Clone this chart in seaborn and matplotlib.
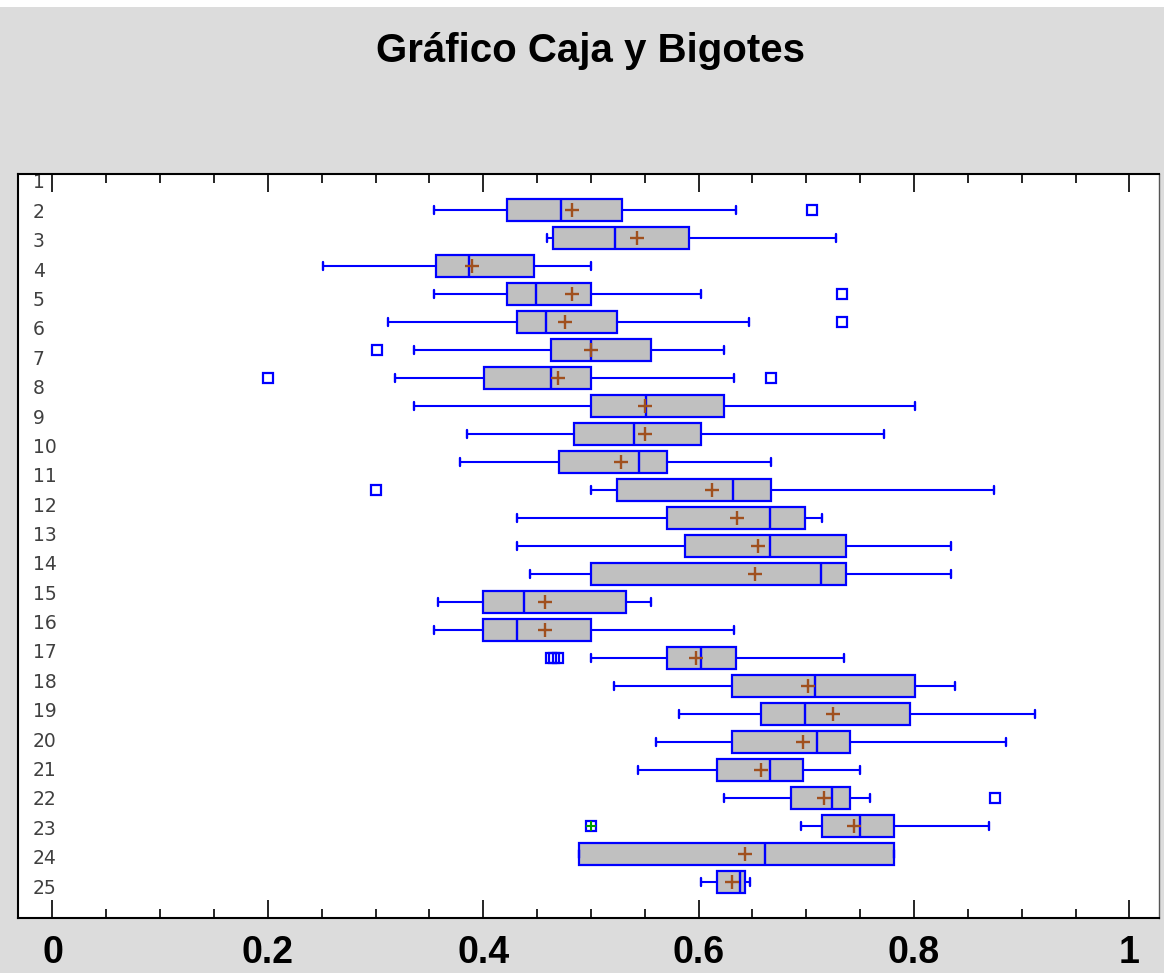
import numpy as np
import pandas as pd
import matplotlib
matplotlib.use("Agg")
import matplotlib.pyplot as plt
from matplotlib.ticker import MultipleLocator
from matplotlib.patches import Rectangle
import seaborn as sns

# ---------------- data ----------------
categories = [str(i) for i in range(1, 26)]
whislo = [0.354, 0.459, 0.251, 0.354, 0.3115, 0.336, 0.318, 0.336, 0.385, 0.378,
          0.500, 0.431, 0.431, 0.443, 0.358, 0.354, 0.500, 0.5216, 0.5815, 0.560,
          0.544, 0.624, 0.695, 0.489, 0.602]
q1 = [0.4225, 0.465, 0.356, 0.4225, 0.431, 0.463, 0.401, 0.500, 0.484, 0.470,
      0.524, 0.571, 0.587, 0.500, 0.400, 0.400, 0.571, 0.631, 0.6575, 0.631,
      0.6175, 0.686, 0.715, 0.489, 0.6175]
median = [0.472, 0.522, 0.387, 0.449, 0.458, 0.500, 0.463, 0.551, 0.540, 0.545,
          0.632, 0.666, 0.666, 0.714, 0.438, 0.431, 0.602, 0.708, 0.699, 0.710,
          0.666, 0.724, 0.750, 0.6615, 0.638]
q3 = [0.529, 0.591, 0.447, 0.500, 0.524, 0.556, 0.500, 0.624, 0.602, 0.571,
      0.667, 0.699, 0.737, 0.737, 0.533, 0.500, 0.635, 0.801, 0.7965, 0.741,
      0.697, 0.741, 0.781, 0.781, 0.643]
whishi = [0.635, 0.728, 0.500, 0.602, 0.647, 0.624, 0.633, 0.801, 0.772, 0.667,
          0.874, 0.715, 0.834, 0.834, 0.556, 0.633, 0.735, 0.838, 0.912, 0.885,
          0.750, 0.7595, 0.870, 0.781, 0.648]
means = [0.482, 0.543, 0.390, 0.482, 0.476, 0.500, 0.4695, 0.550, 0.550, 0.528,
         0.612, 0.636, 0.655, 0.652, 0.457, 0.457, 0.598, 0.702, 0.725, 0.697,
         0.6575, 0.716, 0.744, 0.643, 0.631]
outliers = [[0.705], [], [], [0.733], [0.733], [0.301], [0.200, 0.667], [], [], [],
            [0.300], [], [], [], [], [], [0.463, 0.466, 0.469], [], [], [],
            [], [0.875], [0.500], [], []]
far_outlier_cat = ["23"]
far_outlier_val = [0.500]

xtick_values = [0, 0.2, 0.4, 0.6, 0.8, 1.0]
xtick_labels = ["0", "0.2", "0.4", "0.6", "0.8", "1"]
title = "Gráfico Caja y Bigotes"

# ---------------- style ----------------
sns.set_style("ticks")
plt.rcParams["font.family"] = ["Liberation Sans", "DejaVu Sans"]
plt.rcParams["text.color"] = "black"
plt.rcParams["xtick.color"] = "black"
plt.rcParams["ytick.color"] = "black"

BLUE = "#0000FF"
BOXFILL = "#C0C0C0"
MEANCOL = "#A0501E"

W, H = 1164, 973
fig = plt.figure(figsize=(W / 100, H / 100), dpi=100, facecolor="#DCDCDC")
fig.patches.append(Rectangle((0, 1 - 7 / H), 1, 7 / H, transform=fig.transFigure,
                             facecolor="white", edgecolor="none", zorder=0))

ax_left, ax_right, ax_top, ax_bot = 18, 1159, 174, 918
ax = fig.add_axes([ax_left / W, (H - ax_bot) / H, (ax_right - ax_left) / W,
                   (ax_bot - ax_top) / H])
ax.set_facecolor("white")

positions = np.arange(1, len(categories) + 1)

stats = []
for i in range(len(categories)):
    stats.append(dict(whislo=whislo[i], q1=q1[i], med=median[i], q3=q3[i],
                      whishi=whishi[i], fliers=outliers[i], mean=means[i],
                      label=categories[i]))

ax.bxp(stats, positions=positions, widths=0.82, orientation="horizontal",
       patch_artist=True, showmeans=False, showcaps=True, manage_ticks=False,
       capwidths=0.3,
       boxprops=dict(facecolor=BOXFILL, edgecolor=BLUE, linewidth=1.6),
       whiskerprops=dict(color=BLUE, linewidth=1.5),
       capprops=dict(color=BLUE, linewidth=1.7),
       medianprops=dict(color=BLUE, linewidth=1.7),
       flierprops=dict(marker="s", markerfacecolor="none", markeredgecolor=BLUE,
                       markersize=7.5, markeredgewidth=1.6, linestyle="none"))

# mean markers drawn with seaborn
dfm = pd.DataFrame({"mean": means, "pos": positions})
sns.scatterplot(data=dfm, x="mean", y="pos", marker="+", s=110, color=MEANCOL,
                linewidth=1.7, ax=ax, zorder=5, legend=False)
# far outlier marker (green cross inside the square)
far_pos = [categories.index(c) + 1 for c in far_outlier_cat]
sns.scatterplot(x=far_outlier_val, y=far_pos, marker="+", s=55, color="#00A000",
                linewidth=1.5, ax=ax, zorder=6, legend=False)

ax.set_xlabel("")
ax.set_ylabel("")

# x axis
ax.set_xlim(-0.032, 1.0275)
ax.set_xticks(xtick_values)
ax.set_xticklabels(xtick_labels, fontsize=27, fontweight="bold", color="black",
                   family=["Liberation Sans", "DejaVu Sans"])
ax.xaxis.set_minor_locator(MultipleLocator(0.05))
ax.tick_params(axis="x", which="major", direction="in", length=13, width=1.2,
               top=True, bottom=True, pad=12, color="black")
ax.tick_params(axis="x", which="minor", direction="in", length=6.5, width=1.2,
               top=True, bottom=True, color="black")

# y axis: labels sit inside the frame on a slightly different spacing
box_px0, box_step = 210, 28.0
lab_px0, lab_step = 181, 29.375
label_pos = [1 + (lab_px0 + k * lab_step - box_px0) / box_step
             for k in range(len(categories))]
ax.set_ylim(1 + (ax_bot - box_px0) / box_step, 1 + (ax_top - box_px0) / box_step)
ax.set_yticks(label_pos)
ax.set_yticklabels(categories, fontsize=13.5, color="#404040",
                   family=["DejaVu Sans"])
ax.tick_params(axis="y", which="both", length=0, pad=-10.5)
for t in ax.get_yticklabels():
    t.set_horizontalalignment("left")
    t.set_clip_box(ax.bbox)
    t.set_clip_on(True)

for side in ["left", "right", "top", "bottom"]:
    ax.spines[side].set_visible(True)
    ax.spines[side].set_color("black")
    ax.spines[side].set_linewidth(1.5)
ax.spines["right"].set_color("#555555")
ax.spines["right"].set_linewidth(1.0)

fig.text(590 / W, 1 - 62 / H, title, ha="center", va="baseline", fontsize=29,
         fontweight="bold", color="black",
         family=["Liberation Sans", "DejaVu Sans"])

fig.savefig("out.png", dpi=100, facecolor=fig.get_facecolor())
